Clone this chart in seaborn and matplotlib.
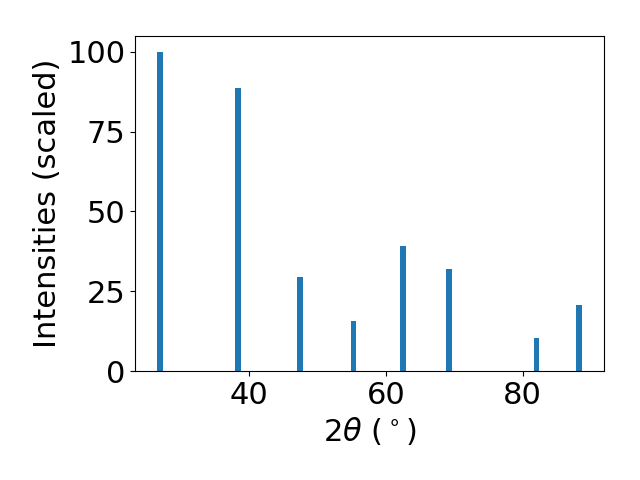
import numpy as np
import pandas as pd
import matplotlib
matplotlib.use("Agg")
import matplotlib.pyplot as plt
import seaborn as sns

two_theta = [26.92, 38.35, 47.40, 55.28, 62.51, 69.20, 82.00, 88.20]
intensity = [100.0, 88.8, 29.5, 15.7, 39.2, 32.0, 10.35, 20.7]

sns.set_style("ticks")
plt.rcParams["font.family"] = ["DejaVu Sans"]
plt.rcParams["text.color"] = "black"
plt.rcParams["axes.labelcolor"] = "black"

df = pd.DataFrame({"two_theta": two_theta, "intensity": intensity})

fig, ax = plt.subplots(figsize=(6.4, 4.8), dpi=100)
min_gap = np.diff(np.sort(df["two_theta"].values)).min()
sns.barplot(data=df, x="two_theta", y="intensity", native_scale=True,
            width=0.8 / min_gap, color="#1f77b4", saturation=1, ax=ax,
            errorbar=None, linewidth=0, edgecolor="none")
ax.set_xlim(23.3, 91.9)
ax.set_ylim(0, 105)
ax.set_xticks([40, 60, 80])
ax.set_yticks([0, 25, 50, 75, 100])
ax.tick_params(labelsize=22, direction="out", length=3.5, width=0.8,
               colors="black", labelcolor="black")
ax.set_xlabel(r"2$\theta$ ($^\circ$)", fontsize=22, color="black")
ax.set_ylabel("Intensities (scaled)", fontsize=22, color="black")
for s in ax.spines.values():
    s.set_visible(True)
    s.set_color("black")
    s.set_linewidth(0.8)
fig.subplots_adjust(left=0.211, right=0.944, top=0.925, bottom=0.227)
fig.savefig("out.png", dpi=100)
